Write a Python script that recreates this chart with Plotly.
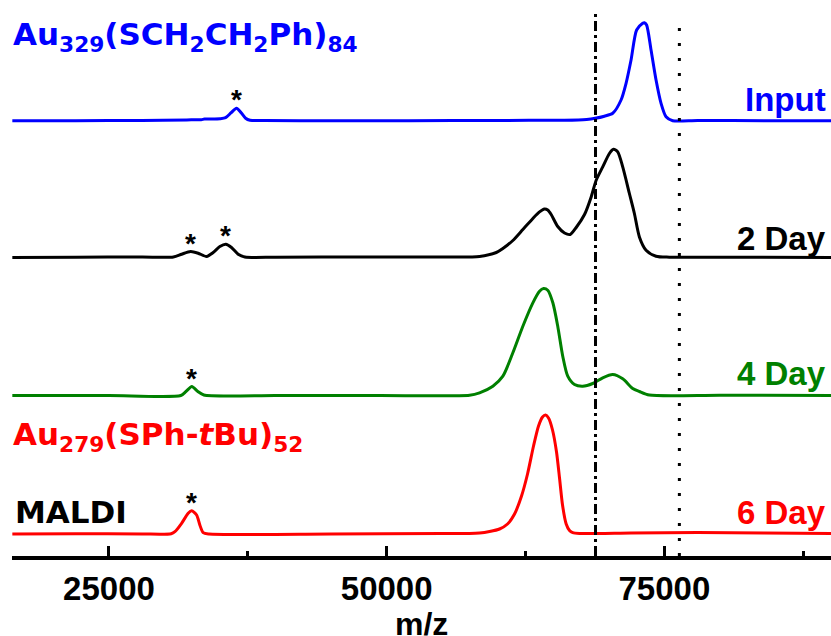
import plotly.graph_objects as go
import numpy as np

# ---------------- data (m/z, intensity in arbitrary units) ----------------
input_mz = [16300, 22000, 28000, 32000, 33300, 33600, 35000, 35500, 36000, 36480, 36900, 37300, 37700,
            39000, 45000, 52000, 60000, 66000, 68000, 68770, 69600, 70350, 71100, 71550, 72000, 72500,
            73050, 73200, 73400, 73800, 74250, 74700, 75150, 75750, 78000, 84000, 90000]
input_int = [0, 0, 0.3, 0.8, 1.0, 1.6, 2.0, 3.0, 8.0, 12.5, 8.0, 2.5, 0.5,
             0.2, 0, 0, 0.3, 0.5, 1.3, 2.4, 4.5, 7.4, 20.7, 37.4, 60.7, 90.7,
             97.4, 98.0, 95.7, 70.7, 40.7, 17.4, 4.0, 0, 0.3, 0, 0]

day2_mz = [16300, 22000, 28000, 30800, 31540, 32350, 33030, 33790, 34380, 34980, 35520, 36030, 36630,
           37230, 40000, 48000, 55000, 58360, 59870, 60460, 61360, 62260, 63160, 63760, 64200, 64500,
           64810, 65400, 66010, 66520, 67060, 67810, 68410, 68860, 69450, 70050, 70410, 70800, 71250,
           71850, 72300, 72750, 73350, 74250, 75450, 82000, 90000]
day2_int = [0, 0.3, 0.5, 0.5, 3.3, 6.0, 4.3, 1.0, 5.0, 11.0, 13.3, 10.0, 3.3,
            0.5, 0.3, 0.5, 0.5, 1.0, 5.0, 9.0, 17.0, 28.0, 39.0, 45.6, 48.5, 47.5,
            43.0, 31.0, 24.5, 23.0, 30.0, 43.0, 60.6, 77.3, 90.6, 104.0, 108.3, 105.6, 90.6,
            64.0, 44.0, 20.6, 7.3, 1.3, 0.3, 0.3, 0]

day4_mz = [16300, 25000, 31470, 31930, 32460, 33000, 33540, 40000, 49370, 57460, 58360, 59560, 60460,
           61360, 62260, 63160, 63760, 64120, 64500, 64960, 65400, 65850, 66300, 66910, 67650, 68550,
           69450, 70350, 71250, 72150, 72750, 73650, 80000, 90000]
day4_int = [0, 0, 0, 4.0, 9.0, 4.0, 0.5, 0, 0, 0.3, 2.7, 9.3, 19.3,
            42.7, 69.3, 92.7, 104.3, 107.0, 105.3, 92.7, 69.3, 39.3, 19.3, 11.0, 9.3, 12.0,
            17.7, 21.0, 16.7, 7.0, 4.0, 0.5, 0.3, 0]

day6_mz = [16300, 22000, 28000, 30600, 30935, 31540, 32130, 32440, 32890, 33180, 33480, 34000, 45000,
           55000, 57460, 58360, 59260, 60160, 60880, 61510, 62140, 62680, 63220, 63670, 64030, 64300,
           64570, 64930, 65290, 65560, 65830, 66160, 66460, 66750, 67360, 72000, 78000, 84000, 90000]
day6_int = [0, 0.3, 0, 0.3, 2.3, 10.7, 20.7, 23.3, 19.0, 9.0, 1.3, 0, 0,
            0.5, 0.5, 1.0, 2.5, 5.0, 10.0, 20.0, 38.0, 60.0, 88.0, 108.0, 117.0, 119.0,
            116.0, 104.0, 82.0, 56.0, 29.0, 10.0, 3.5, 1.3, 0.5, 1.0, 1.5, 1.0, 0.5]

series_names = ["Input", "2 Day", "4 Day", "6 Day"]
series_mz = [input_mz, day2_mz, day4_mz, day6_mz]
series_int = [input_int, day2_int, day4_int, day6_int]
series_colors = ["#0000FF", "#000000", "#008000", "#FF0000"]
series_offsets = [435.3, 298.5, 160.5, 22.0]       # vertical stacking of the spectra

# peaks marked with an asterisk (m/z)
star_mz = [[36480], [32350, 35520], [32460], [32440]]

ref_lines_mz = [68800, 76350]
x_tick_vals = [25000, 50000, 75000]
x_tick_text = ["25000", "50000", "75000"]
x_minor_vals = [37500, 62500, 87500]
x_range = [16270, 90000]

ARIAL = "Liberation Sans, Arial, sans-serif"
WIDE = "DejaVu Sans, Verdana, sans-serif"

fig = go.Figure()
for name, mz, inten, col, off in zip(series_names, series_mz, series_int, series_colors, series_offsets):
    fig.add_trace(go.Scatter(x=mz, y=[v + off for v in inten], mode="lines", name=name,
                             line=dict(color=col, width=3, shape="spline", smoothing=0.7),
                             showlegend=False, hoverinfo="skip"))

annotations = []
# asterisks
for mzs, inten, stars, off in zip(series_mz, series_int, star_mz, series_offsets):
    arr_mz = np.array(mzs); arr_int = np.array(inten)
    for s in stars:
        win = np.abs(arr_mz - s) < 700
        top = arr_int[win].max() + off
        annotations.append(dict(x=s, y=top - 9, xref="x", yref="y", text="<b>*</b>", showarrow=False,
                                yanchor="bottom", font=dict(family=ARIAL, size=28, color="black")))

# right-hand labels
label_y = [457, 318, 183, 44]
for name, col, yy in zip(series_names, series_colors, label_y):
    annotations.append(dict(x=1.0, y=yy, xref="paper", yref="y", text="<b>%s</b>" % name,
                            showarrow=False, xanchor="right", yanchor="middle", xshift=-3,
                            font=dict(family=ARIAL, size=33, color=col)))

annotations.append(dict(x=0, y=520, xref="paper", yref="y",
                        text="<b>Au<sub>329</sub>(SCH<sub>2</sub>CH<sub>2</sub>Ph)<sub>84</sub></b>",
                        showarrow=False, xanchor="left", yanchor="middle", xshift=-1,
                        font=dict(family=WIDE, size=31, color="#0000FF")))
annotations.append(dict(x=0, y=120, xref="paper", yref="y",
                        text="<b>Au<sub>279</sub>(SPh-<i>t</i>Bu)<sub>52</sub></b>",
                        showarrow=False, xanchor="left", yanchor="middle", xshift=-1,
                        font=dict(family=WIDE, size=31, color="#FF0000")))
annotations.append(dict(x=0, y=44, xref="paper", yref="y", text="<b>MALDI</b>",
                        showarrow=False, xanchor="left", yanchor="middle", xshift=1,
                        font=dict(family=WIDE, size=31, color="black")))
annotations.append(dict(x=0.5, y=-0.122, xref="paper", yref="paper", text="<b>m/z</b>",
                        showarrow=False, xanchor="center", yanchor="middle",
                        font=dict(family=ARIAL, size=32, color="black")))

shapes = [
    dict(type="line", x0=ref_lines_mz[0], x1=ref_lines_mz[0], y0=0, y1=544, xref="x", yref="y",
         line=dict(color="black", width=3, dash="10px,4px,3px,4px")),
    dict(type="line", x0=ref_lines_mz[1], x1=ref_lines_mz[1], y0=0, y1=533, xref="x", yref="y",
         line=dict(color="black", width=3, dash="3px,12px")),
]

fig.update_layout(
    width=831, height=636, margin=dict(l=12, r=0, t=0, b=80),
    paper_bgcolor="white", plot_bgcolor="white",
    annotations=annotations, shapes=shapes,
    xaxis=dict(range=x_range, showgrid=False, zeroline=False, showline=True, linecolor="black",
               linewidth=4, ticks="inside", ticklen=10, tickwidth=3, tickcolor="black",
               tickvals=x_tick_vals, ticktext=["<b>%s</b>" % t for t in x_tick_text],
               tickfont=dict(family=ARIAL, size=33, color="black"),
               minor=dict(tickvals=x_minor_vals, ticks="inside", ticklen=5, tickwidth=3, tickcolor="black")),
    yaxis=dict(range=[0, 556], visible=False, showgrid=False, zeroline=False),
)

fig.write_html("out.html")
